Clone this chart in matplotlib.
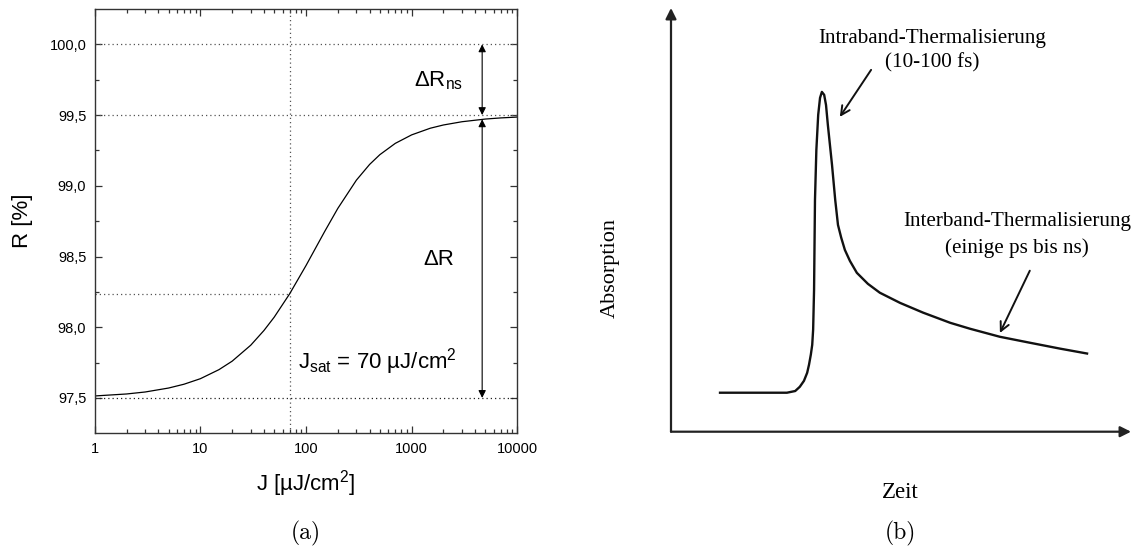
import numpy as np
import matplotlib
matplotlib.use('Agg')
import matplotlib.pyplot as plt
from matplotlib.ticker import FixedLocator, LogLocator, NullFormatter

plt.rcParams['font.family'] = ['Liberation Sans', 'DejaVu Sans']
plt.rcParams['mathtext.fontset'] = 'custom'
plt.rcParams['mathtext.rm'] = 'Liberation Sans'
plt.rcParams['mathtext.it'] = 'Liberation Sans:italic'

# (a) reflectivity vs. fluence
J = [1, 2, 3, 5, 7, 10, 15, 20, 30, 40, 50, 70, 100, 150, 200, 300, 400,
     500, 700, 1000, 1500, 2000, 3000, 5000, 7000, 10000]
R = [97.514, 97.528, 97.542, 97.570, 97.597, 97.636, 97.700, 97.760, 97.873,
     97.977, 98.071, 98.236, 98.436, 98.676, 98.840, 99.040, 99.151, 99.220,
     99.300, 99.360, 99.407, 99.430, 99.453, 99.472, 99.480, 99.486]
J_sat = 70
R_sat = 98.236
R_min = 97.5
R_max = 99.5
R_ideal = 100.0
J_arrow = 4650
R_arrow_top = 99.47

y_ticks = [97.5, 98.0, 98.5, 99.0, 99.5, 100.0]
y_ticklabels = ['97,5', '98,0', '98,5', '99,0', '99,5', '100,0']
x_ticks = [1, 10, 100, 1000, 10000]
x_ticklabels = ['1', '10', '100', '1000', '10000']

# (b) schematic absorption vs. time (arbitrary units)
zeit = [10.4, 19.3, 25.2, 27.0, 28.0, 28.9, 29.6, 30.0, 30.4, 30.7, 30.9, 31.1,
        31.3, 31.6, 32.0, 32.4, 32.8, 33.3, 33.7, 34.1, 35.0, 35.7, 36.3, 37.0,
        37.8, 38.9, 40.4, 42.8, 45.4, 49.8, 54.8, 60.7, 65.0, 71.5, 78.0, 84.6, 90.7]
absorption = [9.2, 9.2, 9.2, 9.6, 10.6, 12.0, 13.9, 15.8, 18.2, 20.5, 24.1, 33.5,
              54.7, 66.5, 74.8, 78.8, 80.2, 79.5, 77.1, 72.4, 63.0, 54.7, 48.8, 45.8,
              42.9, 40.3, 37.5, 34.9, 32.8, 30.4, 28.1, 25.7, 24.3, 22.4, 21.0, 19.6, 18.4]

W, H = 1131, 554
fig = plt.figure(figsize=(W / 100, H / 100), dpi=100)

def px_rect(x0, y0, x1, y1):
    return [x0 / W, 1 - y1 / H, (x1 - x0) / W, (y1 - y0) / H]

# ---------- panel (a) ----------
ax = fig.add_axes(px_rect(94.7, 9, 517.3, 433.3))
ax.set_xscale('log')
ax.set_xlim(1, 10000)
ax.set_ylim(97.25, 100.25)

dot = dict(color='#555555', lw=0.9, ls=(0, (1, 2.4)))
ax.axhline(R_ideal, **dot)
ax.axhline(R_max, **dot)
ax.axhline(R_min, color='#222222', lw=0.9, ls=(0, (1, 2.4)))
ax.axvline(J_sat, **dot)
ax.plot([1, J_sat], [R_sat, R_sat], **dot)

ax.plot(J, R, color='black', lw=0.9)

arr = dict(arrowstyle='<|-|>', color='black', lw=0.8, mutation_scale=11,
           shrinkA=0, shrinkB=0)
ax.annotate('', xy=(J_arrow, R_ideal), xytext=(J_arrow, R_max), arrowprops=arr)
ax.annotate('', xy=(J_arrow, R_arrow_top), xytext=(J_arrow, R_min), arrowprops=arr)

ax.text(1800, 99.74, 'ΔR$_{\\mathrm{ns}}$', fontsize=16, ha='center', va='center')
ax.text(1800, 98.48, 'ΔR', fontsize=16, ha='center', va='center')
ax.text(84, 97.76, 'J$_{\\mathrm{sat}}$ = 70 µJ/cm$^{2}$', fontsize=16,
        ha='left', va='center')

ax.yaxis.set_major_locator(FixedLocator(y_ticks))
ax.set_yticklabels(y_ticklabels)
ax.yaxis.set_minor_locator(FixedLocator([97.75, 98.25, 98.75, 99.25, 99.75]))
ax.xaxis.set_major_locator(FixedLocator(x_ticks))
ax.set_xticklabels(x_ticklabels)
ax.xaxis.set_minor_locator(LogLocator(base=10, subs=np.arange(2, 10)))
ax.xaxis.set_minor_formatter(NullFormatter())
ax.tick_params(which='both', direction='in', top=True, right=True,
               labelsize=10.5, color='#333333', width=0.9, pad=6)
ax.tick_params(which='major', length=5)
ax.tick_params(which='minor', length=3.2)
for s in ax.spines.values():
    s.set_color('#333333')
    s.set_linewidth(1.0)

ax.set_xlabel('J [µJ/cm$^{2}$]', fontsize=16, labelpad=9)
ax.set_ylabel('R [%]', fontsize=16, labelpad=12)
fig.text(306 / W, 1 - 533 / H, '(a)', fontsize=17, family='cmr10',
         ha='center', va='center')

# ---------- panel (b) ----------
bx = fig.add_axes(px_rect(671, 8, 1131, 431.7))
bx.set_xlim(0, 100)
bx.set_ylim(0, 100)
bx.axis('off')

ax_arr = dict(arrowstyle='-|>', color='#222222', lw=1.6, mutation_scale=16,
              shrinkA=0, shrinkB=0)
bx.annotate('', xy=(0, 1), xytext=(0, 0), xycoords='axes fraction',
            arrowprops=ax_arr)
bx.annotate('', xy=(1, 0), xytext=(0, 0), xycoords='axes fraction',
            arrowprops=ax_arr)

bx.plot(zeit, absorption, color='#111111', lw=1.7, solid_capstyle='butt')

serif = ['Liberation Serif', 'DejaVu Serif']
note_arr = dict(arrowstyle='->', color='#111111', lw=1.4, mutation_scale=16,
                shrinkA=0, shrinkB=0)
bx.annotate('', xy=(36.7, 74.3), xytext=(43.5, 85.4), arrowprops=note_arr)
bx.annotate('', xy=(71.5, 23.3), xytext=(78.0, 38.0), arrowprops=note_arr)

bx.text(56.7, 92.9, 'Intraband-Thermalisierung', family=serif, fontsize=15.2,
        ha='center', va='center')
bx.text(56.7, 87.0, '(10-100 fs)', family=serif, fontsize=15.2,
        ha='center', va='center')
bx.text(75.2, 49.5, 'Interband-Thermalisierung', family=serif, fontsize=15.2,
        ha='center', va='center')
bx.text(75.2, 43.4, '(einige ps bis ns)', family=serif, fontsize=15.2,
        ha='center', va='center')

fig.text(610 / W, 1 - 268 / H, 'Absorption', family=serif, fontsize=16,
         rotation=90, ha='center', va='center')
fig.text(900 / W, 1 - 493 / H, 'Zeit', family=serif, fontsize=16.5,
         ha='center', va='center')
fig.text(900 / W, 1 - 533 / H, '(b)', fontsize=17, family='cmr10',
         ha='center', va='center')

fig.savefig('out.png', dpi=100)
